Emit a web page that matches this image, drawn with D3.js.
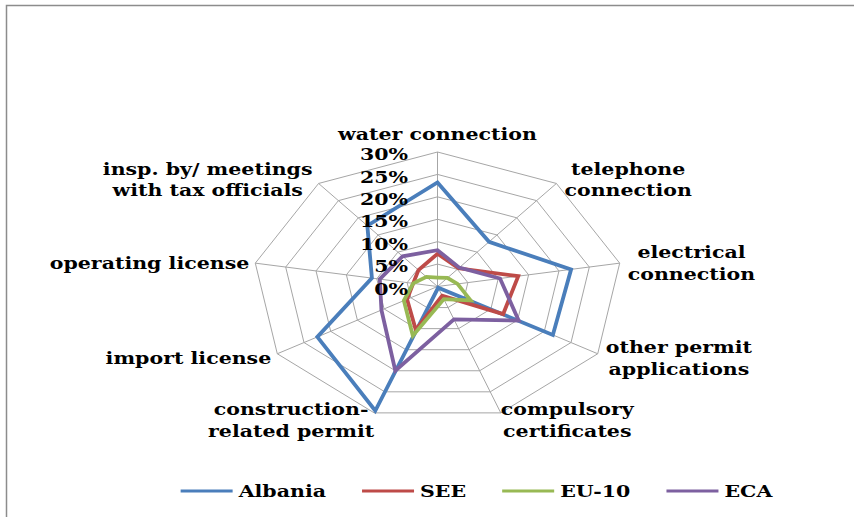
<!DOCTYPE html>
<html>
<head>
<meta charset="utf-8">
<script src="https://cdn.jsdelivr.net/npm/d3@7"></script>
<style>
  html, body { margin: 0; padding: 0; background: #fff; }
  svg { display: block; }
</style>
</head>
<body>
<svg id="chart" width="854" height="517"></svg>
<script>
// ---- data ----
const categories = [
  "water connection",
  "telephone\nconnection",
  "electrical\nconnection",
  "other permit\napplications",
  "compulsory\ncertificates",
  "construction-\nrelated permit",
  "import license",
  "operating license",
  "insp. by/ meetings\nwith tax officials"
];
const seriesNames = ["Albania", "SEE", "EU-10", "ECA"];
const albania = [23.2, 13.0, 22.0, 21.6, 0.3, 29.5, 22.5, 10.8, 17.7];
const see     = [7.3, 5.3, 13.3, 12.3, 2.2, 10.3, 5.7, 4.0, 4.8];
const eu10    = [2.0, 2.5, 3.3, 6.2, 3.0, 11.7, 6.3, 4.0, 2.8];
const eca     = [8.1, 5.5, 10.3, 15.2, 7.8, 20.0, 10.5, 9.5, 8.8];
const tickValues = [0, 5, 10, 15, 20, 25, 30];
const tickLabels = ["0%", "5%", "10%", "15%", "20%", "25%", "30%"];

// ---- layout ----
const W = 854, H = 517;
const cx = 437.5, cy = 286.5;
const Rx = 185, Ry = 134.5;
const fontSize = 16;
const FONT = "DejaVu Serif";
const colors = ["#4A7EBB", "#BE4B48", "#98B954", "#7D60A0"];
const seriesValues = [albania, see, eu10, eca];

const svg = d3.select("#chart");
svg.append("rect").attr("width", W).attr("height", H).attr("fill", "#fff");
svg.append("path")
  .attr("d", `M6.5,${H + 2} L6.5,5.5 L${W + 2},5.5`)
  .attr("fill", "none").attr("stroke", "#8c8c8c").attr("stroke-width", 1.5);

const rX = d3.scaleLinear().domain([0, 30]).range([0, Rx]);
const rY = d3.scaleLinear().domain([0, 30]).range([0, Ry]);
const angle = d3.scalePoint().domain(d3.range(categories.length))
  .range([0, 2 * Math.PI * (categories.length - 1) / categories.length]);
const px = (i, v) => cx + Math.sin(angle(i)) * rX(v);
const py = (i, v) => cy - Math.cos(angle(i)) * rY(v);

function styleText(sel) {
  return sel.attr("font-family", FONT).attr("font-weight", "bold")
    .attr("font-size", fontSize).attr("fill", "#000");
}
function measure(str) {
  const t = styleText(svg.append("text")).text(str);
  const w = t.node().getComputedTextLength();
  t.remove();
  return w;
}
const stretch = 199 / measure("water connection");

// grid rings
const grid = svg.append("g");
tickValues.filter(t => t > 0).forEach(t => {
  const pts = categories.map((c, i) => [px(i, t), py(i, t)]);
  grid.append("path")
    .attr("d", d3.line().curve(d3.curveLinearClosed)(pts))
    .attr("fill", "none").attr("stroke", "#a6a6a6").attr("stroke-width", 1);
});
categories.forEach((c, i) => {
  grid.append("line")
    .attr("x1", cx).attr("y1", cy)
    .attr("x2", px(i, 30)).attr("y2", py(i, 30))
    .attr("stroke", "#a6a6a6").attr("stroke-width", 1);
});

// series
seriesValues.forEach((vals, k) => {
  const pts = vals.map((v, i) => [px(i, v), py(i, v)]);
  svg.append("path")
    .attr("d", d3.line().curve(d3.curveLinearClosed)(pts))
    .attr("fill", "none").attr("stroke", colors[k]).attr("stroke-width", 3.8)
    .attr("stroke-linejoin", "miter");
});

// tick labels
tickValues.forEach((t, j) => {
  styleText(svg.append("text"))
    .attr("transform", `translate(${cx - 29.5},${py(0, t) + 2.5}) scale(${stretch},1)`)
    .attr("text-anchor", "end").attr("dominant-baseline", "central")
    .text(tickLabels[j]);
});

// category labels
const lineH = 21.5;
categories.forEach((c, i) => {
  const lines = c.split("\n");
  const a = angle(i), s = Math.sin(a), co = Math.cos(a);
  const vx = px(i, 30), vy = py(i, 30);
  const widths = lines.map(l => measure(l) * stretch);
  const bw = d3.max(widths);
  let bcx, bcy;
  if (Math.abs(s) < 0.01) {
    bcx = vx;
    bcy = vy - 9 - (lines.length * lineH) / 2 + 2;
  } else {
    const pad = Math.abs(s) < 0.5 ? 0 : (s > 0 ? 8 : 6);
    bcx = s > 0 ? vx + pad + bw / 2 : vx - pad - bw / 2;
    bcy = vy + 1.5 - 6.5 * co;
  }
  lines.forEach((l, j) => {
    const ly = bcy + (j - (lines.length - 1) / 2) * lineH;
    styleText(svg.append("text"))
      .attr("transform", `translate(${bcx},${ly}) scale(${stretch},1)`)
      .attr("text-anchor", "middle").attr("dominant-baseline", "central")
      .text(l);
  });
});

// legend
const legY = 491, lineLen = 52, gapText = 6, itemGap = 36;
const legW = seriesNames.map(n => measure(n) * stretch);
const total = d3.sum(legW) + seriesNames.length * (lineLen + gapText) + (seriesNames.length - 1) * itemGap;
let lx = 476.5 - total / 2;
seriesNames.forEach((n, k) => {
  svg.append("line")
    .attr("x1", lx).attr("x2", lx + lineLen).attr("y1", legY).attr("y2", legY)
    .attr("stroke", colors[k]).attr("stroke-width", 3);
  styleText(svg.append("text"))
    .attr("transform", `translate(${lx + lineLen + gapText},${legY}) scale(${stretch},1)`)
    .attr("dominant-baseline", "central")
    .text(n);
  lx += lineLen + gapText + legW[k] + itemGap;
});
</script>
</body>
</html>
